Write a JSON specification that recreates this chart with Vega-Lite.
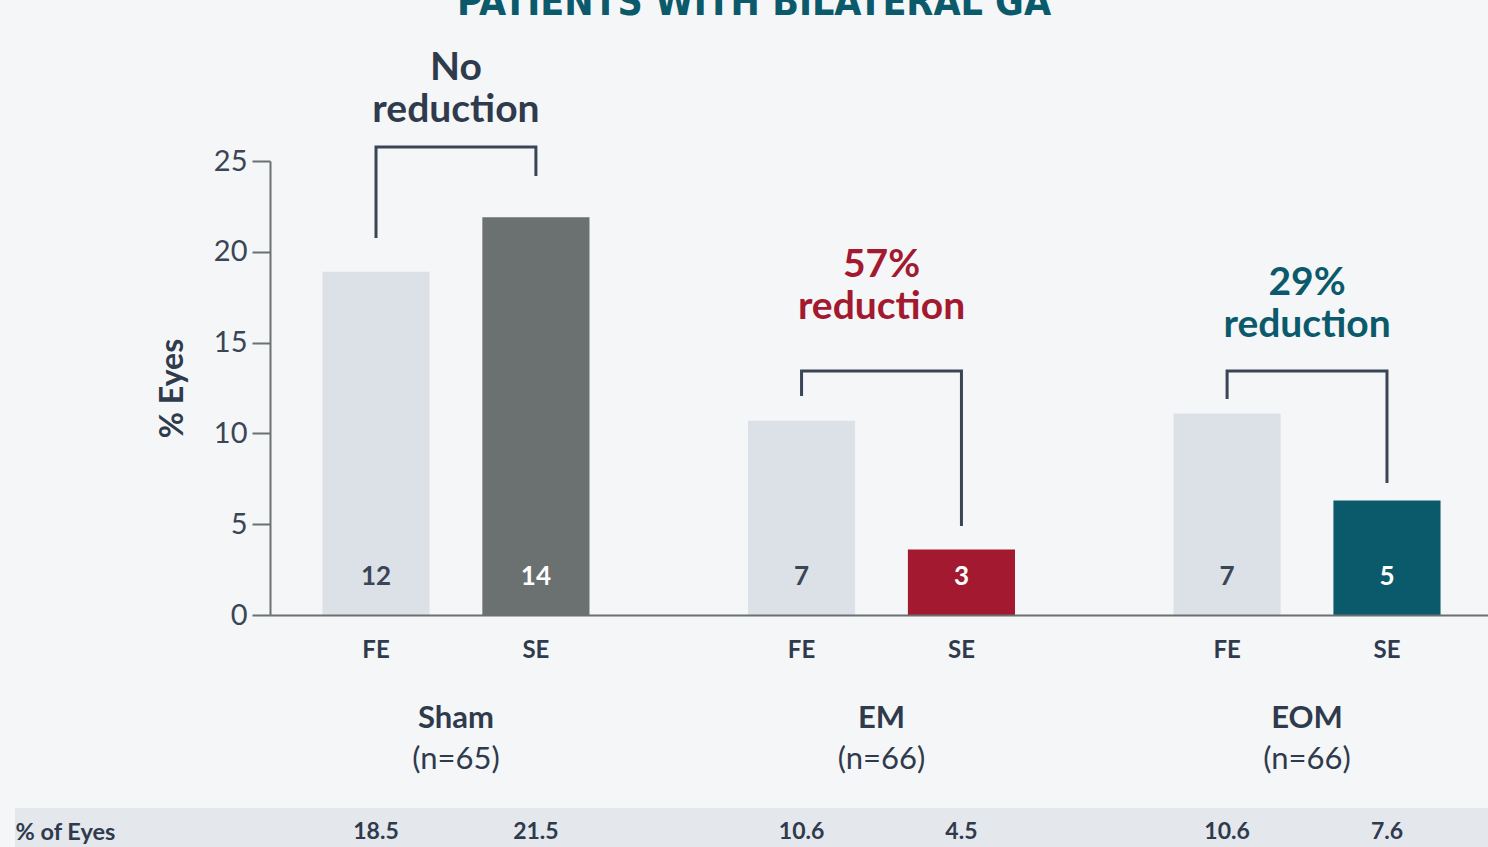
{
  "$schema": "https://vega.github.io/schema/vega-lite/v6.json",
  "width": 1478,
  "height": 454,
  "autosize": {"type": "none"},
  "padding": {"left": 15, "top": 161, "right": 0, "bottom": 232},
  "background": "#f5f6f8",
  "config": {"font": "Lato", "view": {"stroke": null}},
  "title": {
    "text": "PATIENTS WITH BILATERAL GA",
    "font": "DejaVu Sans Condensed, Roboto, sans-serif",
    "fontSize": 39,
    "fontWeight": "bold",
    "color": "#0b5a6b",
    "anchor": "middle",
    "baseline": "alphabetic",
    "offset": 20,
    "dy": 25
  },
  "datasets": {
    "bars": [
      {"group": "Sham", "eye": "FE", "pct": 18.9, "count": "12", "table": "18.5"},
      {"group": "Sham", "eye": "SE", "pct": 21.9, "count": "14", "table": "21.5"},
      {"group": "EM", "eye": "FE", "pct": 10.7, "count": "7", "table": "10.6"},
      {"group": "EM", "eye": "SE", "pct": 3.6, "count": "3", "table": "4.5"},
      {"group": "EOM", "eye": "FE", "pct": 11.1, "count": "7", "table": "10.6"},
      {"group": "EOM", "eye": "SE", "pct": 6.3, "count": "5", "table": "7.6"}
    ],
    "groups": [
      {"group": "Sham", "n": "(n=65)"},
      {"group": "EM", "n": "(n=66)"},
      {"group": "EOM", "n": "(n=66)"}
    ],
    "brackets": [
      {"group": "Sham", "eye": "FE", "y": 20.76, "ord": 1},
      {"group": "Sham", "eye": "FE", "y": 25.77, "ord": 2},
      {"group": "Sham", "eye": "SE", "y": 25.77, "ord": 3},
      {"group": "Sham", "eye": "SE", "y": 24.17, "ord": 4},
      {"group": "EM", "eye": "FE", "y": 12.06, "ord": 1},
      {"group": "EM", "eye": "FE", "y": 13.44, "ord": 2},
      {"group": "EM", "eye": "SE", "y": 13.44, "ord": 3},
      {"group": "EM", "eye": "SE", "y": 4.9, "ord": 4},
      {"group": "EOM", "eye": "FE", "y": 11.89, "ord": 1},
      {"group": "EOM", "eye": "FE", "y": 13.44, "ord": 2},
      {"group": "EOM", "eye": "SE", "y": 13.44, "ord": 3},
      {"group": "EOM", "eye": "SE", "y": 7.27, "ord": 4}
    ],
    "notes": [
      {"group": "Sham", "label": "No\nreduction", "y": 30.12},
      {"group": "EM", "label": "57%\nreduction", "y": 19.27},
      {"group": "EOM", "label": "29%\nreduction", "y": 18.28}
    ]
  },
  "layer": [
    {
      "data": {"name": "bars"},
      "mark": {"type": "bar"},
      "encoding": {
        "x": {
          "field": "group", "type": "nominal",
          "scale": {"domain": ["Sham", "EM", "EOM"], "range": [255, 1478], "paddingInner": 0.126, "paddingOuter": 0},
          "axis": {
            "labels": false, "ticks": false,
            "domainColor": "#6b7070", "domainWidth": 2,
            "title": "% of Eyes", "titleX": 0, "titleY": 217, "titleAlign": "left", "titleBaseline": "middle", "titleAngle": 0,
            "titleFontSize": 23.5, "titleFontWeight": "bold", "titleColor": "#2f3b4c", "zindex": 1
          }
        },
        "xOffset": {"field": "eye", "type": "nominal", "scale": {"domain": ["FE", "SE"], "paddingInner": 0.33, "paddingOuter": 0.328}},
        "y": {
          "field": "pct", "type": "quantitative",
          "scale": {"domain": [0, 25], "nice": false},
          "axis": {
            "values": [0, 5, 10, 15, 20, 25], "offset": -255, "grid": false, "zindex": 1,
            "domainColor": "#6b7070", "domainWidth": 2, "tickColor": "#6b7070", "tickWidth": 2, "tickSize": 18,
            "labelFontSize": 29, "labelColor": "#3a4555", "labelPadding": 5,
            "title": "% Eyes", "titleFontSize": 32, "titleFontWeight": "bold", "titleColor": "#2f3b4c", "titlePadding": 24
          }
        },
        "color": {
          "condition": {"test": "datum.eye === 'FE'", "value": "#dce0e7"},
          "field": "group", "type": "nominal",
          "scale": {"domain": ["Sham", "EM", "EOM"], "range": ["#6b7070", "#a3192f", "#0b5a6b"]},
          "legend": null
        }
      }
    },
    {
      "data": {"values": [{"row": "% of Eyes"}]},
      "mark": {"type": "rect", "color": "#e4e7ec"},
      "encoding": {
        "y": {"datum": -10.63, "type": "quantitative"},
        "y2": {"datum": -13.5}
      }
    },
    {
      "data": {"name": "bars"},
      "mark": {"type": "text", "fontSize": 26, "fontWeight": "bold", "baseline": "middle"},
      "encoding": {
        "x": {"field": "group", "type": "nominal"},
        "xOffset": {"field": "eye", "type": "nominal"},
        "y": {"datum": 2.09, "type": "quantitative"},
        "text": {"field": "count"},
        "color": {"condition": {"test": "datum.eye === 'FE'", "value": "#3a4555"}, "value": "#ffffff"}
      }
    },
    {
      "data": {"name": "bars"},
      "mark": {"type": "text", "fontSize": 24, "fontWeight": "bold", "baseline": "middle", "color": "#2f3b4c"},
      "encoding": {
        "x": {"field": "group", "type": "nominal"},
        "xOffset": {"field": "eye", "type": "nominal"},
        "y": {"datum": -1.98, "type": "quantitative"},
        "text": {"field": "eye"}
      }
    },
    {
      "data": {"name": "bars"},
      "mark": {"type": "text", "fontSize": 23, "fontWeight": "bold", "baseline": "middle", "color": "#2f3b4c"},
      "encoding": {
        "x": {"field": "group", "type": "nominal"},
        "xOffset": {"field": "eye", "type": "nominal"},
        "y": {"datum": -11.95, "type": "quantitative"},
        "text": {"field": "table"}
      }
    },
    {
      "data": {"name": "groups"},
      "mark": {"type": "text", "fontSize": 31, "fontWeight": "bold", "baseline": "middle", "color": "#2f3b4c"},
      "encoding": {
        "x": {"field": "group", "type": "nominal"},
        "y": {"datum": -5.73, "type": "quantitative"},
        "text": {"field": "group"}
      }
    },
    {
      "data": {"name": "groups"},
      "mark": {"type": "text", "fontSize": 31, "baseline": "middle", "color": "#2f3b4c"},
      "encoding": {
        "x": {"field": "group", "type": "nominal"},
        "y": {"datum": -7.98, "type": "quantitative"},
        "text": {"field": "n"}
      }
    },
    {
      "data": {"name": "brackets"},
      "mark": {"type": "line", "color": "#3a4555", "strokeWidth": 3, "strokeJoin": "miter"},
      "encoding": {
        "x": {"field": "group", "type": "nominal"},
        "xOffset": {"field": "eye", "type": "nominal"},
        "y": {"field": "y", "type": "quantitative"},
        "order": {"field": "ord"},
        "detail": {"field": "group"}
      }
    },
    {
      "data": {"name": "notes"},
      "mark": {"type": "text", "fontSize": 39, "fontWeight": "bold", "baseline": "middle", "lineBreak": "\n", "lineHeight": 42},
      "encoding": {
        "x": {"field": "group", "type": "nominal"},
        "y": {"field": "y", "type": "quantitative"},
        "text": {"field": "label"},
        "color": {
          "condition": [
            {"test": "datum.group === 'EM'", "value": "#a3192f"},
            {"test": "datum.group === 'EOM'", "value": "#0b5a6b"}
          ],
          "value": "#2f3b4c"
        }
      }
    }
  ]
}
